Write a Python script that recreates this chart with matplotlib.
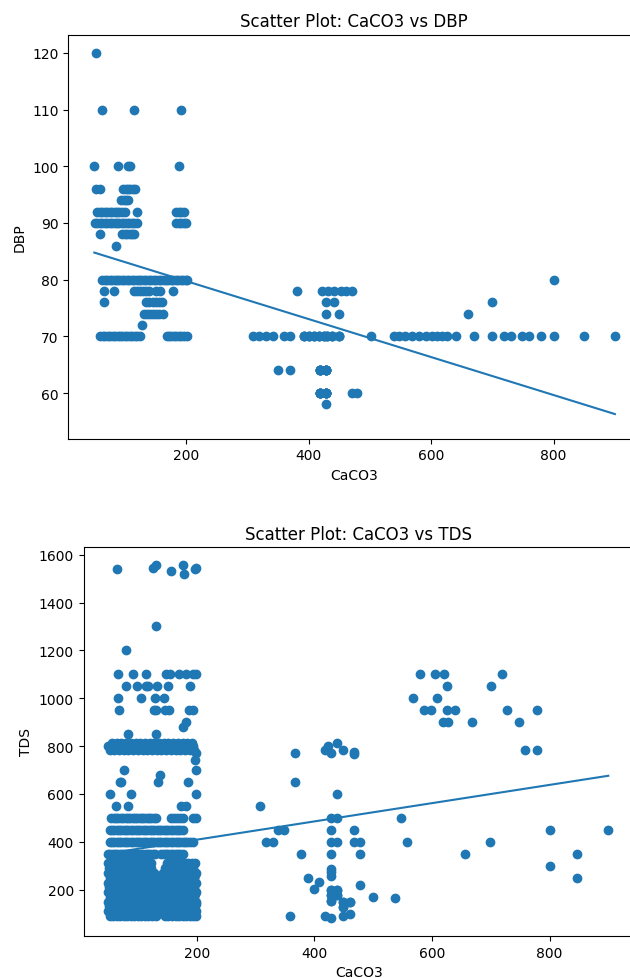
import numpy as np
import matplotlib
matplotlib.use("Agg")
import matplotlib.pyplot as plt

# ---------------- Top chart: CaCO3 vs DBP (CaCO3 values grouped by DBP level) ----------------
dbp_120_x = [52]
dbp_110_x = [62, 114, 191]
dbp_100_x = [50, 88, 105, 109, 189]
dbp_96_x = [53, 59, 97, 101, 105, 109, 113, 117]
dbp_94_x = [94, 98, 102, 105]
dbp_92_x = [55, 59, 63, 67, 71, 75, 79, 83, 87, 91, 95, 100, 120, 184, 188, 192, 196]
dbp_90_x = [51, 55, 59, 63, 67, 71, 75, 79, 83, 87, 91, 95, 99, 103, 107, 111, 115, 120,
            184, 188, 192, 196, 200]
dbp_88_x = [59, 96, 100, 104, 108, 112, 115]
dbp_86_x = [86]
dbp_80_x = [63, 67, 71, 75, 79, 83, 87, 91, 95, 99, 103, 107, 111, 115, 119, 123, 127, 131,
            135, 139, 143, 147, 151, 155, 159, 163, 167, 171, 175, 179, 183, 187, 191, 195,
            199, 202, 800]
dbp_78_x = [65, 82, 114, 119, 124, 129, 134, 140, 150, 157, 179, 381, 422, 432, 442, 452,
            461, 471]
dbp_76_x = [66, 135, 140, 145, 150, 155, 160, 429, 441, 700]
dbp_74_x = [131, 136, 141, 146, 151, 156, 162, 429, 449, 660]
dbp_72_x = [128]
dbp_70_x = [60, 64, 68, 72, 76, 80, 84, 88, 92, 96, 100, 104, 108, 112, 116, 120, 124,
            168, 172, 176, 180, 184, 188, 192, 196, 201, 309, 319, 330, 341, 360, 370,
            392, 392, 392, 400, 400, 400, 408, 408, 408, 417, 417, 417, 425, 425, 425,
            430, 430, 430, 438, 438, 438, 449, 449, 449, 501, 539, 548, 558, 569, 580,
            591, 602, 610, 618, 626, 640, 670, 700, 719, 730, 749, 760, 780, 800, 849, 900]
dbp_64_x = [350, 370, 419, 419, 419, 419, 419, 419, 429, 429, 429, 429, 429, 429]
dbp_60_x = [419, 419, 419, 419, 419, 419, 429, 429, 429, 429, 429, 429, 470, 479]
dbp_58_x = [429]

dbp_rows = [(120, dbp_120_x), (110, dbp_110_x), (100, dbp_100_x), (96, dbp_96_x),
            (94, dbp_94_x), (92, dbp_92_x), (90, dbp_90_x), (88, dbp_88_x), (86, dbp_86_x),
            (80, dbp_80_x), (78, dbp_78_x), (76, dbp_76_x), (74, dbp_74_x), (72, dbp_72_x),
            (70, dbp_70_x), (64, dbp_64_x), (60, dbp_60_x), (58, dbp_58_x)]

# ---------------- Bottom chart: CaCO3 vs TDS (CaCO3 values grouped by TDS level) ----------------
tds_1100_x = [67, 92, 113, 148, 154, 170, 181, 194, 198, 580, 605, 620, 720]
tds_1050_x = [80, 98, 113, 117, 132, 151, 189, 625, 700]
tds_1000_x = [66, 106, 129, 144, 568, 609]
tds_950_x = [68, 127, 130, 146, 153, 187, 194, 587, 598, 625, 640, 728, 778]
tds_900_x = [182, 619, 627, 668, 748]
tds_815_x = [56, 64, 72, 80, 88, 96, 104, 112, 120, 128, 136, 144, 152, 160, 168, 176,
             184, 192, 438]
tds_800_x = [50, 54, 58, 62, 66, 70, 74, 78, 82, 86, 90, 94, 98, 102, 106, 110, 114, 118,
             122, 126, 130, 134, 138, 142, 146, 150, 154, 158, 162, 166, 170, 174, 178,
             182, 186, 190, 194, 423]
tds_785_x = [52, 60, 68, 76, 84, 92, 100, 108, 116, 124, 132, 140, 148, 156, 164, 172,
             180, 188, 196, 418, 449, 778, 758]
tds_500_x = [55, 59, 63, 67, 71, 75, 79, 83, 87, 91, 95, 99, 103, 107, 111, 115, 119, 123,
             127, 131, 157, 162, 167, 172, 177, 194, 199, 429, 439, 548]
tds_450_x = [52, 56, 60, 64, 68, 72, 76, 80, 84, 88, 92, 96, 100, 104, 108, 112, 116, 120,
             124, 128, 132, 136, 140, 144, 148, 152, 156, 160, 164, 168, 172, 177,
             338, 348, 429, 467, 800, 900]
tds_400_x = [52, 56, 60, 64, 68, 72, 76, 80, 84, 88, 92, 96, 100, 104, 108, 112, 116, 120,
             124, 128, 132, 136, 140, 144, 148, 152, 156, 160, 164, 168, 172, 176, 180,
             184, 188, 194, 318, 330, 429, 439, 467, 478, 558, 699]
tds_350_x = [49, 53, 57, 61, 65, 69, 73, 77, 81, 85, 89, 93, 97, 101, 105, 109, 113, 117,
             121, 125, 129, 140, 144, 148, 152, 156, 160, 164, 168, 172, 177,
             378, 429, 478, 657, 847]
tds_310_x = [50, 56, 62, 68, 74, 80, 86, 92, 98, 104, 110, 116, 122, 150, 156, 162, 168,
             174, 180, 186, 192, 197]
tds_290_x = [51, 57, 63, 69, 75, 81, 87, 93, 99, 105, 111, 117, 123, 146, 152, 158, 164,
             170, 176, 182, 188, 194]
tds_270_x = [50, 56, 62, 68, 74, 80, 86, 92, 98, 104, 110, 116, 122, 128, 143, 150, 156,
             162, 168, 174, 180, 186, 192, 198]
tds_260_x = [53, 59, 65, 71, 77, 83, 89, 95, 101, 107, 113, 119, 125, 141, 149, 155, 161,
             167, 173, 179, 185, 191, 197]
tds_250_x = [52, 58, 64, 70, 76, 82, 88, 94, 100, 106, 112, 118, 124, 140, 147, 153, 159,
             165, 171, 177, 183, 189, 195]
tds_230_x = [50, 56, 62, 68, 74, 80, 86, 92, 98, 104, 110, 116, 122, 128, 145, 151, 157,
             163, 169, 175, 181, 187, 193, 198]
tds_220_x = [54, 60, 66, 72, 78, 84, 90, 96, 102, 108, 114, 120, 126, 142, 148, 154, 160,
             166, 172, 178, 184, 190, 196]
tds_210_x = [51, 57, 63, 69, 75, 81, 87, 93, 99, 105, 111, 117, 123, 138, 147, 153, 159,
             165, 171, 177, 183, 189, 195]
tds_190_x = [50, 56, 62, 68, 74, 80, 86, 92, 98, 104, 110, 116, 122, 128, 140, 146, 152,
             158, 164, 170, 176, 182, 188, 194, 199]
tds_180_x = [53, 59, 65, 71, 77, 83, 89, 95, 101, 107, 113, 119, 125, 131, 143, 149, 155,
             161, 167, 173, 179, 185, 191, 197]
tds_170_x = [52, 58, 64, 70, 76, 82, 88, 94, 100, 106, 112, 118, 124, 130, 142, 148, 154,
             160, 166, 172, 178, 184, 190, 196]
tds_150_x = [50, 56, 62, 68, 74, 80, 86, 92, 98, 104, 110, 116, 122, 128, 134, 146, 152,
             158, 164, 170, 176, 182, 188, 194, 199]
tds_140_x = [54, 60, 66, 72, 78, 84, 90, 96, 102, 108, 114, 120, 126, 132, 144, 150, 156,
             162, 168, 174, 180, 186, 192, 198]
tds_130_x = [51, 57, 63, 69, 75, 81, 87, 93, 99, 105, 111, 117, 123, 129, 147, 153, 159,
             165, 171, 177, 183, 189, 195]
tds_110_x = [50, 56, 62, 68, 74, 80, 86, 92, 98, 104, 110, 116, 122, 128, 134, 146, 152,
             158, 164, 170, 176, 182, 188, 194, 199]
tds_90_x = [52, 58, 64, 70, 76, 82, 88, 94, 100, 106, 112, 118, 124, 130, 146, 152, 158,
            164, 170, 176, 182, 188, 194, 198]

tds_rows = [(1100, tds_1100_x), (1050, tds_1050_x), (1000, tds_1000_x), (950, tds_950_x),
            (900, tds_900_x), (815, tds_815_x), (800, tds_800_x), (785, tds_785_x),
            (500, tds_500_x), (450, tds_450_x), (400, tds_400_x), (350, tds_350_x),
            (310, tds_310_x), (290, tds_290_x), (270, tds_270_x), (260, tds_260_x),
            (250, tds_250_x), (230, tds_230_x), (220, tds_220_x), (210, tds_210_x),
            (190, tds_190_x), (180, tds_180_x), (170, tds_170_x), (150, tds_150_x),
            (140, tds_140_x), (130, tds_130_x), (110, tds_110_x), (90, tds_90_x)]

# scattered single TDS readings
tds_misc_x = [64, 126, 130, 156, 177, 179, 197, 199, 130, 79, 177, 83, 131, 199, 197, 76,
              199, 137, 69, 72, 134, 185, 52, 89, 199, 63, 83, 174, 182,
              368, 429, 467, 467, 368, 439, 308, 800, 429, 429, 429, 389, 847, 408, 399,
              478, 429, 439, 429, 439, 429, 449, 460, 449, 460, 418, 429, 449, 499, 537, 358,
              429, 439, 429, 439, 429, 449, 460, 449]
tds_misc_y = [1540, 1545, 1555, 1530, 1555, 1520, 1540, 1545, 1300, 1200, 880, 850, 850,
              770, 740, 700, 700, 680, 650, 650, 650, 650, 600, 600, 600, 550, 550, 550, 550,
              770, 770, 775, 767, 650, 600, 550, 300, 287, 273, 256, 250, 250, 231, 203,
              221, 200, 200, 178, 178, 154, 147, 150, 126, 100, 92, 80, 90, 171, 164, 90,
              200, 200, 178, 178, 154, 147, 150, 126]


def rows_to_xy(rows):
    xs, ys = [], []
    for level, vals in rows:
        xs.extend(vals)
        ys.extend([level] * len(vals))
    return np.array(xs, float), np.array(ys, float)


x1, y1 = rows_to_xy(dbp_rows)
x2, y2 = rows_to_xy(tds_rows)
x2 = np.concatenate([x2, tds_misc_x])
y2 = np.concatenate([y2, tds_misc_y])

fig = plt.figure(figsize=(6.3, 9.79), dpi=100)
W, H = 630.0, 979.0
ax1 = fig.add_axes([68.3 / W, (H - 439.5) / H, (640 - 68.3) / W, (439.5 - 35.7) / H])
ax2 = fig.add_axes([83.5 / W, (H - 937) / H, (634 - 83.5) / W, (937 - 548) / H])


def draw(ax, x, y, title, ylabel):
    ax.scatter(x, y, color="#1f77b4")
    k, b = np.polyfit(x, y, 1)
    order = np.argsort(x)
    ax.plot(x[order], k * x[order] + b, color="#1f77b4")
    ax.set_title(title)
    ax.set_xlabel("CaCO3")
    ax.set_ylabel(ylabel)
    ax.set_xticks([200, 400, 600, 800])


draw(ax1, x1, y1, "Scatter Plot: CaCO3 vs DBP", "DBP")
ax1.set_xlim(7.5, 941)
ax1.set_ylim(52.0, 123.2)
ax1.set_yticks([60, 70, 80, 90, 100, 110, 120])

draw(ax2, x2, y2, "Scatter Plot: CaCO3 vs TDS", "TDS")
ax2.set_xlim(7.5, 943.7)
ax2.set_ylim(6.5, 1632)
ax2.set_yticks([200, 400, 600, 800, 1000, 1200, 1400, 1600])

fig.savefig("out.png", dpi=100)
